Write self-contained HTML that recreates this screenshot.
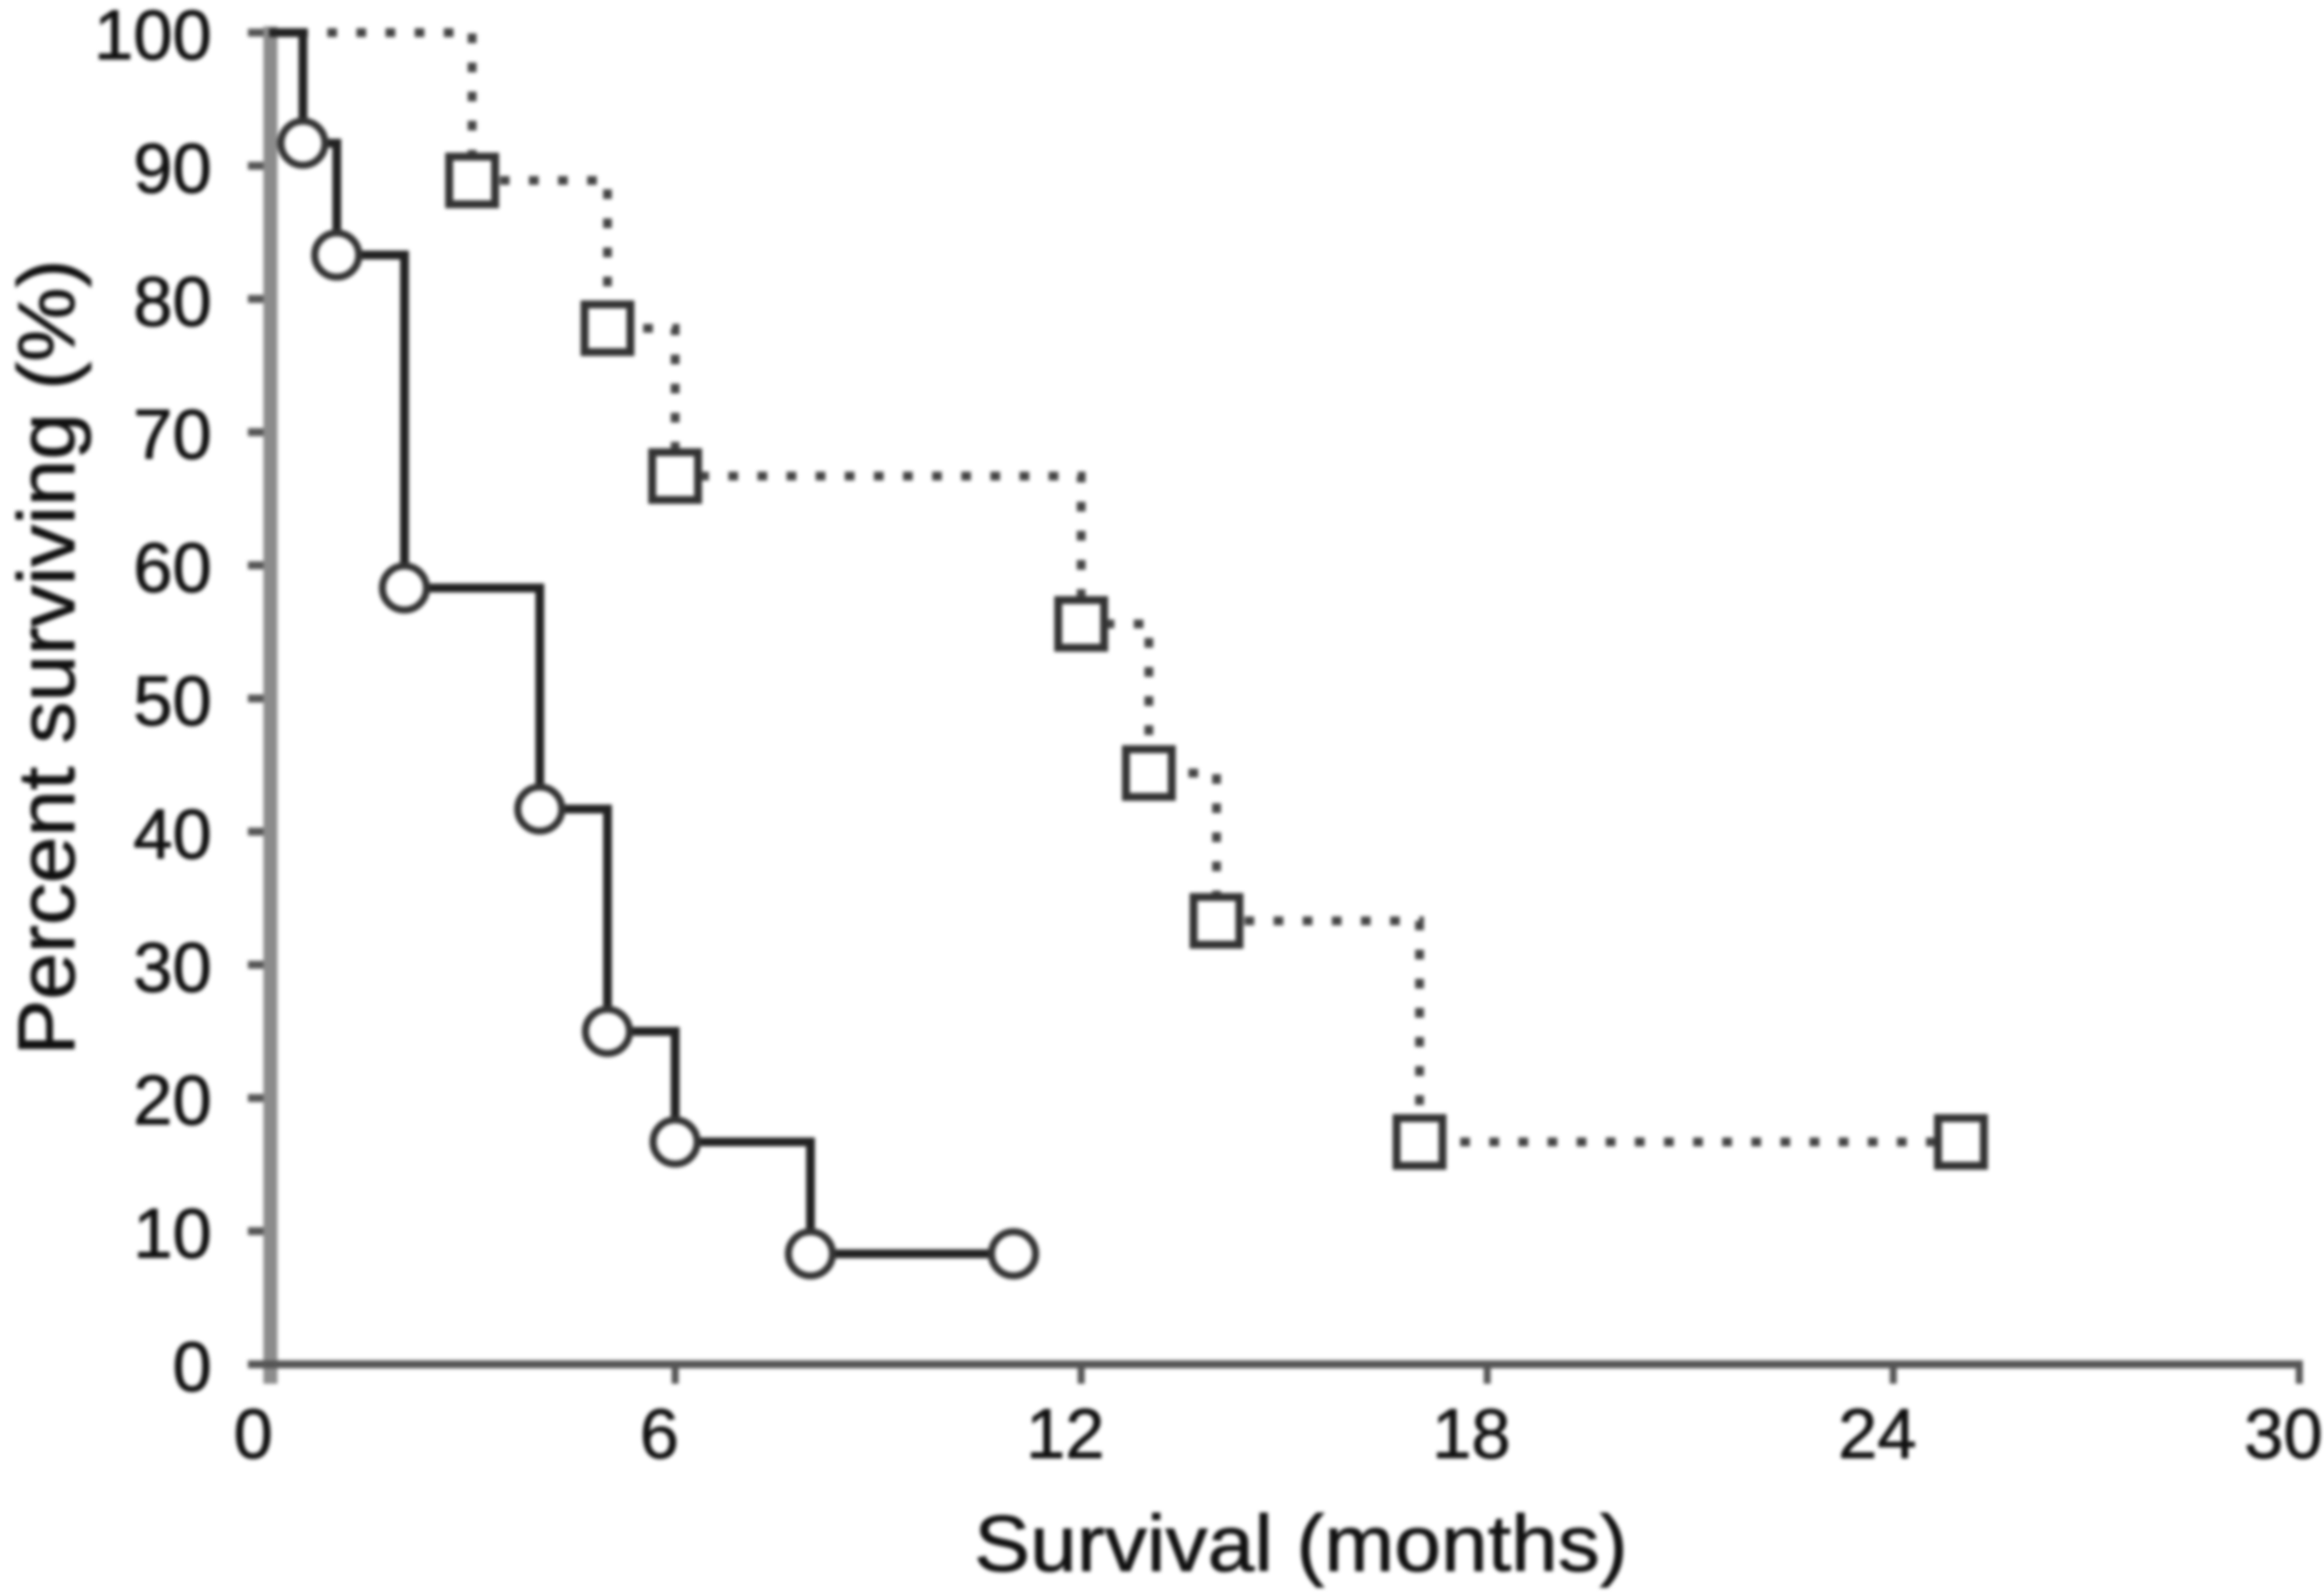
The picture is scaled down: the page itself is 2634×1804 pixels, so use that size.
<!DOCTYPE html>
<html lang="en">
<head>
<meta charset="utf-8">
<title>Survival chart</title>
<style>
html,body{margin:0;padding:0;background:#fff;width:2634px;height:1804px;overflow:hidden}
svg{display:block;filter:blur(2.2px)}
text{font-family:"Liberation Sans",Arial,sans-serif;fill:#111;stroke:#111;stroke-width:1}
</style>
</head>
<body>
<svg id="chart" xmlns="http://www.w3.org/2000/svg" width="2634" height="1804" viewBox="0 0 2634 1804">
<rect width="2634" height="1804" fill="#fff"/>
<text transform="translate(84,1196) rotate(-90)" font-size="91" textLength="902" lengthAdjust="spacingAndGlyphs">Percent surviving (%)</text>
<text x="1104" y="1780" font-size="90" textLength="741" lengthAdjust="spacingAndGlyphs">Survival (months)</text>
</svg>
<script>
const xTicks = [0, 6, 12, 18, 24, 30];
const yTicks = [0, 10, 20, 30, 40, 50, 60, 70, 80, 90, 100];
const solidMonths = [0.5, 1, 2, 4, 5, 6, 8, 11];
const solidSurvival = [91.7, 83.3, 58.3, 41.7, 25, 16.7, 8.3, 8.3];
const dottedMonths = [3, 5, 6, 12, 13, 14, 17, 25];
const dottedSurvival = [88.9, 77.8, 66.7, 55.6, 44.4, 33.3, 16.7, 16.7];

const NS = 'http://www.w3.org/2000/svg';
const svg = document.getElementById('chart');
const xScale = m => 305 + m * 76.7;
const yScale = v => 1546 - v * 15.09;

function make(tag, attrs) {
  const el = document.createElementNS(NS, tag);
  for (const k in attrs) el.setAttribute(k, attrs[k]);
  svg.appendChild(el);
  return el;
}

function stepPath(months, values) {
  let d = 'M' + xScale(0) + ' ' + yScale(100) + ' H' + xScale(months[0]);
  months.forEach((m, i) => {
    d += ' H' + xScale(m) + ' V' + yScale(values[i]);
  });
  return d;
}

// y axis ticks and labels
yTicks.forEach(v => {
  const tick = make('line', {x1: 281, x2: 306, y1: yScale(v), y2: yScale(v), stroke: '#555', 'stroke-width': 9});
  
  
  const label = make('text', {x: 240, y: yScale(v) + 30, 'font-size': 80, 'text-anchor': 'end'});
  label.textContent = v;
  
  
});

// x axis ticks and labels
xTicks.forEach(m => {
  const tick = make('line', {x1: xScale(m), x2: xScale(m), y1: 1546, y2: 1568, stroke: '#555', 'stroke-width': 8});
  
  
  const label = make('text', {x: xScale(m) - 18, y: 1652, 'font-size': 80, 'text-anchor': 'middle'});
  label.textContent = m;
  
  
});

// axis lines
const yAxis = make('line', {x1: 306.5, x2: 306.5, y1: 30, y2: 1568, stroke: '#8c8c8c', 'stroke-width': 16});


const xAxis = make('line', {x1: 281, x2: xScale(30) + 4, y1: 1546, y2: 1546, stroke: '#555', 'stroke-width': 9});



// dotted series
const dottedLine = make('path', {d: stepPath(dottedMonths, dottedSurvival), fill: 'none', stroke: '#444', 'stroke-width': 10, 'stroke-dasharray': '11 22'});



// solid series
const solidLine = make('path', {d: stepPath(solidMonths, solidSurvival), fill: 'none', stroke: '#222', 'stroke-width': 10});



dottedMonths.forEach((m, i) => {
  const square = make('rect', {x: xScale(m) - 26, y: yScale(dottedSurvival[i]) - 27, width: 52, height: 54, fill: '#fff', stroke: '#333', 'stroke-width': 9});
  
  
});

solidMonths.forEach((m, i) => {
  const circle = make('circle', {cx: xScale(m), cy: yScale(solidSurvival[i]), r: 25, fill: '#fff', stroke: '#333', 'stroke-width': 8});
  
  
});
</script>
</body>
</html>
